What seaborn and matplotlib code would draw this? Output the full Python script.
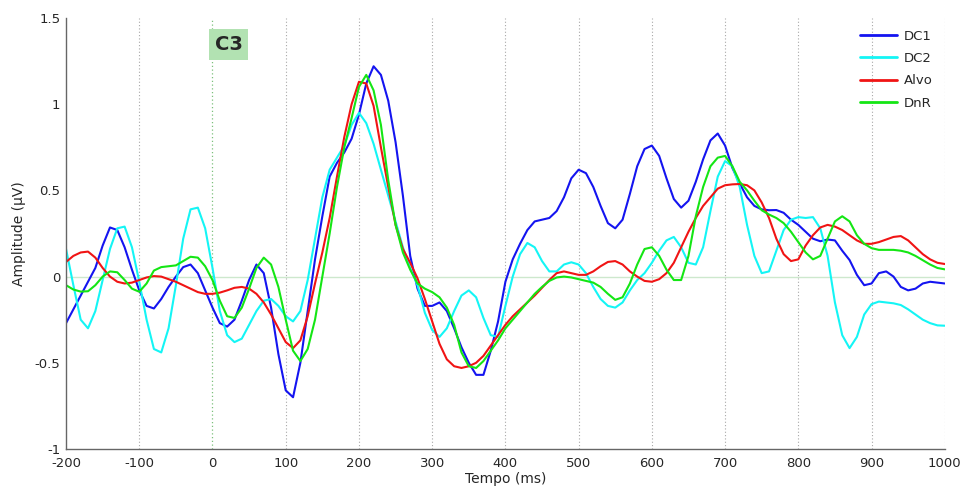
import numpy as np
import pandas as pd
import matplotlib
matplotlib.use('Agg')
import matplotlib.pyplot as plt
import seaborn as sns

# --- Data (every 10 ms) ---
tempo = list(range(-200, 1001, 10))

dc1 = [-0.27, -0.19, -0.11, -0.03, 0.05, 0.18, 0.285, 0.27, 0.17, 0.04,
       -0.08, -0.17, -0.185, -0.13, -0.06, 0.0, 0.055, 0.07, 0.02, -0.08,
       -0.18, -0.27, -0.29, -0.25, -0.14, -0.02, 0.07, 0.02, -0.18, -0.45,
       -0.66, -0.70, -0.50, -0.20, 0.10, 0.35, 0.58, 0.66, 0.72, 0.80,
       0.94, 1.12, 1.22, 1.17, 1.02, 0.78, 0.47, 0.12, -0.07, -0.17,
       -0.17, -0.15, -0.20, -0.30, -0.41, -0.50, -0.57, -0.57, -0.43, -0.26,
       -0.03, 0.10, 0.19, 0.27, 0.32, 0.33, 0.34, 0.38, 0.46, 0.57,
       0.62, 0.60, 0.52, 0.41, 0.31, 0.28, 0.33, 0.48, 0.64, 0.74,
       0.76, 0.70, 0.57, 0.45, 0.40, 0.44, 0.55, 0.68, 0.79, 0.83,
       0.76, 0.63, 0.54, 0.46, 0.41, 0.39, 0.385, 0.386, 0.37, 0.33,
       0.30, 0.26, 0.22, 0.205, 0.215, 0.21, 0.15, 0.096, 0.01, -0.05,
       -0.04, 0.02, 0.03, 0.0, -0.06, -0.08, -0.07, -0.04, -0.03, -0.035,
       -0.04]

dc2 = [0.16, -0.05, -0.25, -0.30, -0.20, -0.02, 0.16, 0.28, 0.29, 0.17,
       -0.03, -0.25, -0.42, -0.44, -0.30, -0.05, 0.22, 0.39, 0.40, 0.28,
       0.05, -0.20, -0.34, -0.38, -0.36, -0.28, -0.20, -0.14, -0.13, -0.17,
       -0.23, -0.26, -0.20, -0.02, 0.22, 0.46, 0.62, 0.69, 0.76, 0.88,
       0.95, 0.89, 0.77, 0.62, 0.47, 0.32, 0.17, 0.05, -0.05, -0.21,
       -0.31, -0.35, -0.30, -0.20, -0.11, -0.08, -0.12, -0.24, -0.34, -0.35,
       -0.17, 0.0, 0.13, 0.195, 0.17, 0.09, 0.03, 0.03, 0.07, 0.083,
       0.07, 0.02, -0.06, -0.13, -0.17, -0.18, -0.15, -0.08, -0.02, 0.02,
       0.08, 0.15, 0.21, 0.23, 0.17, 0.08, 0.07, 0.17, 0.38, 0.58,
       0.67, 0.64, 0.52, 0.30, 0.12, 0.02, 0.03, 0.15, 0.27, 0.33,
       0.345, 0.34, 0.345, 0.28, 0.12, -0.15, -0.34, -0.415, -0.35, -0.22,
       -0.16, -0.145, -0.15, -0.155, -0.165, -0.19, -0.22, -0.25, -0.27, -0.283,
       -0.285]

alvo = [0.085, 0.12, 0.14, 0.145, 0.11, 0.05, 0.0, -0.03, -0.04, -0.035,
        -0.02, -0.005, 0.003, 0.0, -0.015, -0.03, -0.05, -0.07, -0.09, -0.10,
        -0.10, -0.093, -0.08, -0.065, -0.06, -0.07, -0.10, -0.15, -0.22, -0.30,
        -0.38, -0.415, -0.37, -0.23, -0.04, 0.14, 0.34, 0.58, 0.81, 1.00,
        1.13, 1.12, 0.99, 0.75, 0.52, 0.30, 0.16, 0.08, -0.01, -0.13,
        -0.26, -0.39, -0.48, -0.52, -0.53, -0.52, -0.50, -0.46, -0.40, -0.34,
        -0.28, -0.23, -0.19, -0.15, -0.11, -0.065, -0.02, 0.02, 0.03, 0.02,
        0.01, 0.01, 0.03, 0.06, 0.085, 0.09, 0.07, 0.03, 0.0, -0.025,
        -0.03, -0.015, 0.02, 0.08, 0.17, 0.26, 0.34, 0.41, 0.46, 0.51,
        0.53, 0.535, 0.537, 0.53, 0.50, 0.43, 0.34, 0.22, 0.13, 0.09,
        0.10, 0.18, 0.24, 0.285, 0.30, 0.29, 0.27, 0.24, 0.21, 0.19,
        0.19, 0.20, 0.215, 0.23, 0.235, 0.21, 0.17, 0.13, 0.10, 0.08,
        0.073]

dnr = [-0.05, -0.075, -0.087, -0.085, -0.05, 0.0, 0.03, 0.025, -0.02, -0.07,
       -0.088, -0.04, 0.035, 0.055, 0.06, 0.065, 0.09, 0.115, 0.11, 0.06,
       -0.02, -0.14, -0.23, -0.24, -0.18, -0.07, 0.05, 0.11, 0.07, -0.06,
       -0.25, -0.43, -0.49, -0.42, -0.25, 0.0, 0.25, 0.52, 0.75, 0.92,
       1.10, 1.17, 1.08, 0.88, 0.56, 0.30, 0.14, 0.04, -0.04, -0.07,
       -0.09, -0.12, -0.18, -0.28, -0.44, -0.52, -0.53, -0.49, -0.43, -0.37,
       -0.30, -0.25, -0.20, -0.15, -0.10, -0.06, -0.025, -0.005, 0.0, -0.005,
       -0.015, -0.025, -0.035, -0.06, -0.10, -0.135, -0.12, -0.04, 0.07, 0.16,
       0.17, 0.12, 0.04, -0.02, -0.02, 0.12, 0.35, 0.52, 0.64, 0.69,
       0.70, 0.64, 0.55, 0.50, 0.44, 0.385, 0.36, 0.34, 0.31, 0.26,
       0.20, 0.14, 0.10, 0.12, 0.22, 0.32, 0.35, 0.32, 0.24, 0.19,
       0.165, 0.155, 0.155, 0.155, 0.15, 0.14, 0.12, 0.095, 0.07, 0.05,
       0.042]

conditions = ['DC1', 'DC2', 'Alvo', 'DnR']
colors = {'DC1': '#1414f0', 'DC2': '#14f5f5', 'Alvo': '#f01414', 'DnR': '#14e614'}

df = pd.concat([
    pd.DataFrame({'tempo': tempo, 'amp': vals, 'cond': name})
    for name, vals in zip(conditions, [dc1, dc2, alvo, dnr])
])

# --- Plot ---
sns.set_style('white')
plt.rcParams['font.family'] = ['DejaVu Sans']
plt.rcParams['axes.unicode_minus'] = False

fig = plt.figure(figsize=(9.67, 4.96), dpi=100)
ax = fig.add_axes([0.0683, 0.0948, 0.9087, 0.8689])

# grid and reference lines
for xv in range(-100, 1001, 100):
    if xv != 0:
        ax.axvline(xv, color='#a8a8a8', lw=0.8, ls=(0, (1, 2)), zorder=0)
ax.axvline(0, color='#7cc07c', lw=0.9, ls=(0, (1, 2)), zorder=0)
ax.axhline(0, color='#cde8cd', lw=1.0, zorder=0)

sns.lineplot(data=df, x='tempo', y='amp', hue='cond', hue_order=conditions,
             palette=colors, lw=1.5, ax=ax, estimator=None, sort=False,
             solid_joinstyle='round', solid_capstyle='round')

ax.set_xlim(-200, 1000)
ax.set_ylim(-1, 1.5)
ax.set_xticks(range(-200, 1001, 100))
ax.set_yticks([-1, -0.5, 0, 0.5, 1, 1.5])
ax.set_yticklabels(['-1', '-0.5', '0', '0.5', '1', '1.5'])
ax.tick_params(direction='in', length=5, width=0.8, color='#555555',
               labelsize=9.5, pad=4)
ax.tick_params(axis='x', pad=6)
for s in ['top', 'right']:
    ax.spines[s].set_visible(False)
for s in ['left', 'bottom']:
    ax.spines[s].set_color('#666666')
    ax.spines[s].set_linewidth(1.0)

ax.set_xlabel('Tempo (ms)', fontsize=10, labelpad=1)
ax.set_ylabel('Amplitude (µV)', fontsize=10, labelpad=6)

ax.text(3, 1.346, 'C3', fontsize=14, fontweight='bold', ha='left', va='center',
        bbox=dict(boxstyle='square,pad=0.3', fc='#b2e2b2', ec='none'))

leg = ax.legend(loc='upper right', frameon=False, fontsize=9.5, handlelength=2.8,
                labelspacing=0.7, bbox_to_anchor=(1.0, 1.0), borderaxespad=0.5,
                handletextpad=0.5)
for line in leg.get_lines():
    line.set_linewidth(2.0)

plt.savefig('out.png', dpi=100)
plt.close()
